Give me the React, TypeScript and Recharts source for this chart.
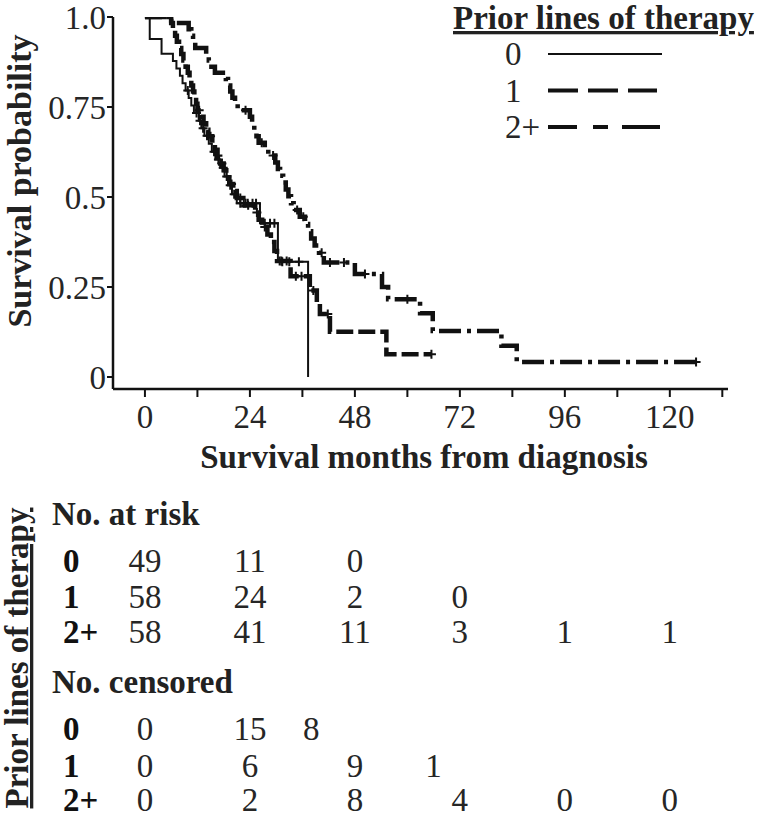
import React from 'react';
import { ComposedChart, Line, XAxis, YAxis, ScatterChart, Scatter } from 'recharts';

const FONT = '"Liberation Serif", "Times New Roman", Times, serif';
const INK = '#111';
const TEXT = '#262626';

// Kaplan-Meier steps: [month, survival after the step, censored flag]
const group0: [number, number, number][] = [
  [0, 1, 0], [1.1, 0.939, 0], [3.8, 0.898, 0], [6.4, 0.878, 0], [7.2, 0.857, 0],
  [8.0, 0.837, 0], [8.6, 0.816, 0], [9.3, 0.796, 0], [9.8, 0.796, 1], [10.0, 0.775, 0],
  [10.6, 0.754, 0], [11.2, 0.733, 0], [11.8, 0.733, 1], [12.3, 0.712, 0], [12.6, 0.712, 1],
  [12.9, 0.691, 0], [13.3, 0.691, 1], [13.6, 0.67, 0], [14.2, 0.67, 1], [14.6, 0.648, 0],
  [15.3, 0.626, 0], [15.8, 0.626, 1], [16.1, 0.604, 0], [16.8, 0.604, 1], [17.2, 0.581, 0],
  [17.9, 0.581, 1], [18.2, 0.557, 0], [18.7, 0.557, 1], [19.0, 0.533, 0], [19.5, 0.533, 1],
  [19.9, 0.508, 0], [20.4, 0.508, 1], [21.0, 0.483, 0], [21.8, 0.483, 1], [22.6, 0.483, 1],
  [23.0, 0.483, 1], [23.5, 0.483, 1], [24.6, 0.483, 1], [25.4, 0.483, 1], [26.3, 0.427, 0],
  [27.4, 0.427, 1], [28.6, 0.427, 1], [29.6, 0.427, 1], [30.4, 0.32, 0], [31.4, 0.32, 1],
  [33.0, 0.32, 1], [35.2, 0.32, 1], [37.3, 0, 0],
];

const group1: [number, number, number][] = [
  [0, 1, 0], [6.0, 0.983, 0], [6.4, 0.966, 0], [6.9, 0.948, 0], [7.3, 0.931, 0],
  [7.8, 0.914, 0], [8.3, 0.897, 0], [8.8, 0.879, 0], [9.3, 0.862, 0], [9.8, 0.845, 0],
  [10.2, 0.828, 0], [10.6, 0.81, 0], [11.0, 0.793, 0], [11.3, 0.776, 0], [11.7, 0.759, 0],
  [12.0, 0.741, 0], [12.4, 0.741, 1], [12.8, 0.723, 0], [13.4, 0.705, 0], [14.0, 0.687, 0],
  [14.5, 0.669, 0], [15.0, 0.669, 1], [15.4, 0.65, 0], [16.0, 0.631, 0], [16.6, 0.612, 0],
  [17.2, 0.593, 0], [17.6, 0.593, 1], [18.0, 0.574, 0], [18.6, 0.555, 0], [19.3, 0.536, 0],
  [19.8, 0.536, 1], [20.2, 0.517, 0], [21.0, 0.497, 0], [21.8, 0.497, 1], [22.5, 0.477, 0],
  [23.6, 0.477, 1], [25.2, 0.457, 0], [25.6, 0.457, 1], [26.0, 0.437, 0], [26.8, 0.417, 0],
  [27.4, 0.417, 1], [28.0, 0.396, 0], [28.8, 0.375, 0], [29.6, 0.35, 0], [30.2, 0.322, 0],
  [30.8, 0.322, 1], [31.2, 0.322, 1], [32.4, 0.322, 1], [33.3, 0.28, 0], [34.5, 0.28, 1],
  [35.8, 0.28, 1], [37.7, 0.24, 0], [38.5, 0.24, 1], [39.3, 0.205, 0], [40.0, 0.175, 0],
  [41.8, 0.175, 1], [42.3, 0.126, 0], [55.2, 0.063, 0], [65.5, 0.063, 1],
];

const group2: [number, number, number][] = [
  [0, 1, 0], [6.0, 0.983, 0], [10.0, 0.966, 0], [10.6, 0.948, 0], [11.0, 0.931, 0],
  [11.5, 0.914, 0], [14.0, 0.897, 0], [14.6, 0.879, 0], [15.2, 0.862, 0], [16.0, 0.845, 0],
  [18.5, 0.828, 0], [19.0, 0.81, 0], [19.5, 0.793, 0], [20.0, 0.776, 0], [20.6, 0.759, 0],
  [21.2, 0.741, 0], [23.0, 0.741, 1], [24.0, 0.723, 0], [24.5, 0.705, 0], [25.0, 0.687, 0],
  [25.5, 0.669, 0], [26.0, 0.651, 0], [26.7, 0.651, 1], [27.4, 0.633, 0], [28.2, 0.615, 0],
  [29.3, 0.615, 1], [29.8, 0.596, 0], [30.4, 0.578, 0], [30.9, 0.559, 0], [31.6, 0.54, 0],
  [32.2, 0.521, 0], [32.8, 0.502, 0], [33.4, 0.483, 0], [34.0, 0.464, 0], [34.8, 0.464, 1],
  [35.4, 0.445, 0], [36.2, 0.445, 1], [36.6, 0.425, 0], [37.3, 0.405, 0], [38.0, 0.385, 0],
  [38.8, 0.365, 0], [39.8, 0.345, 0], [40.4, 0.345, 1], [40.9, 0.318, 0], [42.3, 0.318, 1],
  [45.5, 0.318, 1], [48.0, 0.286, 0], [50.3, 0.286, 1], [54.2, 0.25, 0], [55.6, 0.216, 0],
  [60.0, 0.216, 1], [62.9, 0.177, 0], [65.8, 0.128, 0], [81.5, 0.087, 0], [85.0, 0.042, 0],
  [126.0, 0.042, 1],
];

const groupNames = ['0', '1', '2+'];
const monthTicks = [0, 12, 24, 36, 48, 60, 72, 84, 96, 108, 120, 132];
const survTicks = [0, 0.25, 0.5, 0.75, 1];

// risk table
const tableMonths = [0, 24, 48, 72, 96, 120];
const atRisk = [
  [49, 11, 0],
  [58, 24, 2, 0],
  [58, 41, 11, 3, 1, 1],
];
const censoredMonths = [
  [0, 24, 38],
  [0, 24, 48, 66],
  [0, 24, 48, 72, 96, 120],
];
const censored = [
  [0, 15, 8],
  [0, 6, 9, 1],
  [0, 2, 8, 4, 0, 0],
];

const styles = [
  { width: 2, dash: undefined as string | undefined, legendWidth: 2, legendDash: undefined as string | undefined, legendEnd: 662 },
  { width: 4.5, dash: '17 5', legendWidth: 4, legendDash: '30 10', legendEnd: 657 },
  { width: 4.5, dash: '22 6 4 6', legendWidth: 4, legendDash: '29 16 15 14 40', legendEnd: 660 },
];

const X_DOMAIN: [number, number] = [-7.3, 133.3];

const toPoints = (rows: [number, number, number][]) => rows.map(([t, s, c]) => ({ t, s, c }));
const curves = [group0, group1, group2].map(toPoints);

const CensorMark = (props: any) => {
  const { cx, cy, payload, index } = props;
  if (!payload || !payload.c || cx == null) return <g key={`n${index}`} />;
  return (
    <path
      key={`c${index}`}
      d={`M${cx - 4.5},${cy}H${cx + 4.5}M${cx},${cy - 4.5}V${cy + 4.5}`}
      stroke={INK}
      strokeWidth={2}
      fill="none"
    />
  );
};

const XTitle = () => (
  <text x={424} y={468} textAnchor="middle" fontFamily={FONT} fontWeight="bold" fontSize={33} fill="#222">
    Survival months from diagnosis
  </text>
);

const YTitle = () => (
  <text
    transform="translate(31,181) rotate(-90)"
    textAnchor="middle"
    fontFamily={FONT}
    fontWeight="bold"
    fontSize={34}
    fill="#222"
  >
    Survival probability
  </text>
);

const CellText = (props: any) => {
  const { cx, cy, payload } = props;
  return (
    <text x={cx} y={cy} dy="0.34em" textAnchor="middle" fontFamily={FONT} fontSize={33} fill={TEXT}>
      {payload.v}
    </text>
  );
};

const riskRowY = [81, 117, 152];
const censRowY = [249, 286, 320];

const cells = [
  ...atRisk.flatMap((row, i) => row.map((v, j) => ({ x: tableMonths[j], y: riskRowY[i], v }))),
  ...censored.flatMap((row, i) => row.map((v, j) => ({ x: censoredMonths[i][j], y: censRowY[i], v }))),
];

export default function App() {
  return (
    <div style={{ position: 'absolute', left: 0, top: 0, width: 760, height: 817, background: '#fff' }}>
      <div style={{ position: 'absolute', left: 0, top: 0 }}>
        <ComposedChart width={760} height={480} margin={{ top: 17, right: 32, bottom: 0, left: 0 }}>
          <XAxis
            type="number"
            dataKey="t"
            domain={X_DOMAIN}
            allowDataOverflow
            ticks={monthTicks}
            interval={0}
            tickFormatter={(v: number) => (v % 24 === 0 ? String(v) : '')}
            height={91}
            tickSize={8}
            tickMargin={8}
            tick={{ fill: TEXT, fontSize: 33, fontFamily: FONT }}
            axisLine={{ stroke: INK, strokeWidth: 2.5 }}
            tickLine={{ stroke: INK, strokeWidth: 2 }}
            label={<XTitle />}
          />
          <YAxis
            type="number"
            domain={[-0.0333, 1]}
            allowDataOverflow
            ticks={survTicks}
            interval={0}
            tickFormatter={(v: number) => (v === 1 ? '1.0' : String(v))}
            width={113}
            tickSize={6}
            tickMargin={1}
            tick={{ fill: TEXT, fontSize: 33, fontFamily: FONT }}
            axisLine={{ stroke: INK, strokeWidth: 2.5 }}
            tickLine={{ stroke: INK, strokeWidth: 2 }}
            label={<YTitle />}
          />
          {curves.map((data, i) => (
            <Line
              key={groupNames[i]}
              data={data}
              dataKey="s"
              type="stepAfter"
              stroke={INK}
              strokeWidth={styles[i].width}
              strokeDasharray={styles[i].dash}
              dot={CensorMark}
              activeDot={false}
              isAnimationActive={false}
            />
          ))}
        </ComposedChart>
      </div>

      {/* legend */}
      <svg width={760} height={160} style={{ position: 'absolute', left: 0, top: 0, pointerEvents: 'none' }}>
        <text x={453} y={29} fontFamily={FONT} fontWeight="bold" fontSize={33} fill="#222" textDecoration="underline">
          Prior lines of therapy
        </text>
        {groupNames.map((n, i) => (
          <g key={n}>
            <text x={505} y={65 + i * 36.5} fontFamily={FONT} fontSize={33} fill={TEXT}>
              {n}
            </text>
            <line
              x1={548}
              x2={styles[i].legendEnd}
              y1={54 + i * 36.5}
              y2={54 + i * 36.5}
              stroke={INK}
              strokeWidth={styles[i].legendWidth}
              strokeDasharray={styles[i].legendDash}
            />
          </g>
        ))}
      </svg>

      {/* risk table */}
      <div style={{ position: 'absolute', left: 0, top: 480 }}>
        <ScatterChart width={760} height={337} margin={{ top: 0, right: 32, bottom: 0, left: 113 }}>
          <XAxis type="number" dataKey="x" domain={X_DOMAIN} allowDataOverflow hide />
          <YAxis type="number" dataKey="y" domain={[0, 337]} allowDataOverflow reversed hide />
          <Scatter data={cells} shape={CellText} isAnimationActive={false} />
        </ScatterChart>
      </div>
      <svg width={760} height={337} style={{ position: 'absolute', left: 0, top: 480, pointerEvents: 'none' }}>
        <text
          transform="translate(28,178) rotate(-90)"
          textAnchor="middle"
          fontFamily={FONT}
          fontWeight="bold"
          fontSize={33}
          fill="#222"
          textDecoration="underline"
        >
          Prior lines of therapy
        </text>
        <text x={52} y={45} fontFamily={FONT} fontWeight="bold" fontSize={33} fill="#222">
          No. at risk
        </text>
        <text x={52} y={213} fontFamily={FONT} fontWeight="bold" fontSize={33} fill="#222">
          No. censored
        </text>
        {groupNames.map((n, i) => (
          <g key={n}>
            <text x={63} y={riskRowY[i]} dy="0.34em" fontFamily={FONT} fontWeight="bold" fontSize={33} fill="#111">
              {n}
            </text>
            <text x={63} y={censRowY[i]} dy="0.34em" fontFamily={FONT} fontWeight="bold" fontSize={33} fill="#111">
              {n}
            </text>
          </g>
        ))}
      </svg>
    </div>
  );
}
